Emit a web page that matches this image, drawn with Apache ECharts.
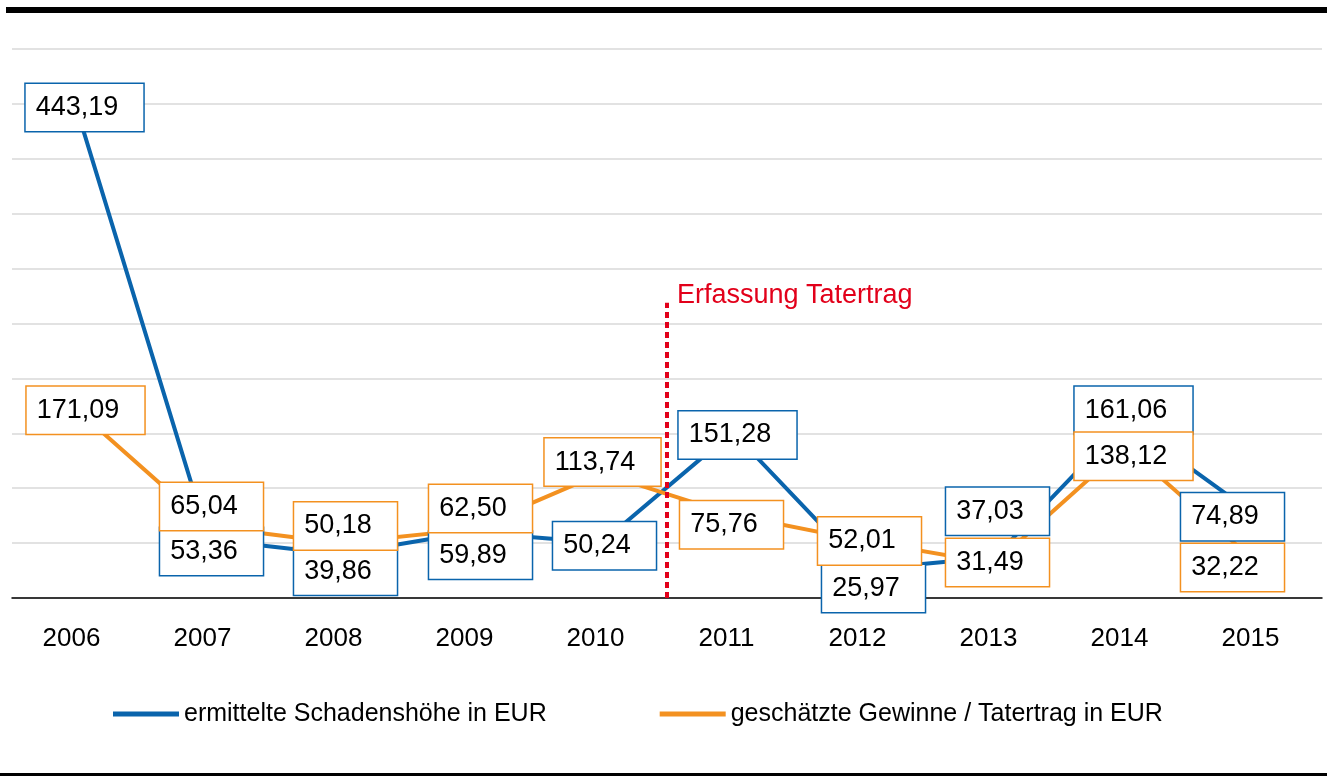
<!DOCTYPE html>
<html>
<head>
<meta charset="utf-8">
<script src="https://cdn.jsdelivr.net/npm/echarts@6/dist/echarts.min.js"></script>
<style>
  html, body { margin: 0; padding: 0; background: #fff; }
  #chart { width: 1327px; height: 776px; }
</style>
</head>
<body>
<div id="chart"></div>
<script>
var years = ['2006', '2007', '2008', '2009', '2010', '2011', '2012', '2013', '2014', '2015']
var schaden = [443.19, 53.36, 39.86, 59.89, 50.24, 151.28, 25.97, 37.03, 161.06, 74.89]
var gewinne = [171.09, 65.04, 50.18, 62.50, 113.74, 75.76, 52.01, 31.49, 138.12, 32.22]
var seriesNames = ['ermittelte Schadenshöhe in EUR', 'geschätzte Gewinne / Tatertrag in EUR']

// label box offsets from the point (px), as placed in the original
var schadenOffsets = [[7, -4], [3, 12], [6, 17], [10, 23], [3, 3], [5, 3], [10, 19], [3, -46], [8, -11], [-24, 1]]
var gewinneOffsets = [[8, 0], [3, -20], [6, -17], [10, -21], [1, -11], [-1, 10], [6, 0], [3, -1], [8, 10], [-24, 5]]

var BLUE = '#0a64ac'
var ORANGE = '#f39120'
var RED = '#e2001a'
var FONT = 'Liberation Sans, Arial, sans-serif'

function fmt (v) {
  return v.toFixed(2).replace('.', ',')
}

function labelData (values, offsets) {
  return values.map(function (v, i) {
    return { value: v, label: { offset: offsets[i] } }
  })
}

function labelSeries (name, values, offsets, color, z) {
  return {
    name: name,
    type: 'scatter',
    z: z,
    silent: true,
    symbolSize: 1,
    itemStyle: { color: 'rgba(0,0,0,0)', opacity: 1 },
    data: labelData(values, offsets),
    label: {
      show: true,
      position: 'inside',
      formatter: function (p) { return fmt(p.value) },
      fontFamily: FONT,
      fontSize: 27,
      lineHeight: 29,
      color: '#000',
      backgroundColor: '#fff',
      borderColor: color,
      borderWidth: 1.5,
      padding: [9, 25, 9, 10]
    }
  }
}

var myChart = echarts.init(document.getElementById('chart'))
var option = {
  animation: false,
  backgroundColor: '#fff',
  grid: { left: 12, right: 5, top: 49, bottom: 178 },
  legend: {
    data: seriesNames,
    left: 108,
    top: 694,
    icon: 'rect',
    itemWidth: 66,
    itemHeight: 5,
    itemGap: 113,
    textStyle: { fontFamily: FONT, fontSize: 25, lineHeight: 30, color: '#000' }
  },
  xAxis: [
    {
      type: 'category',
      data: years,
      boundaryGap: true,
      axisTick: { show: false },
      axisLine: { show: true, lineStyle: { color: '#000', width: 1.5 } },
      axisLabel: {
        fontFamily: FONT,
        fontSize: 26,
        color: '#000',
        margin: 28,
        padding: [0, 12, 0, 0]
      }
    },
    {
      // hidden helper axis: 0..10 maps onto the category band edges
      type: 'value',
      show: false,
      min: 0,
      max: 10
    }
  ],
  yAxis: {
    type: 'value',
    min: 0,
    max: 500,
    interval: 50,
    axisLabel: { show: false },
    axisLine: { show: false },
    axisTick: { show: false },
    splitLine: { show: true, lineStyle: { color: '#d9d9d9', width: 1.5 } }
  },
  graphic: [
    { type: 'rect', shape: { x: 6, y: 7, width: 1321, height: 6 }, style: { fill: '#000' } },
    { type: 'rect', shape: { x: 0, y: 773, width: 1327, height: 3 }, style: { fill: '#000' } }
  ],
  series: [
    {
      name: seriesNames[0],
      type: 'line',
      z: 2,
      data: schaden,
      symbol: 'none',
      lineStyle: { color: BLUE, width: 4 },
      itemStyle: { color: BLUE }
    },
    {
      name: seriesNames[1],
      type: 'line',
      z: 2,
      data: gewinne,
      symbol: 'none',
      lineStyle: { color: ORANGE, width: 4 },
      itemStyle: { color: ORANGE }
    },
    labelSeries('lab1', schaden, schadenOffsets, BLUE, 3),
    labelSeries('lab2', gewinne, gewinneOffsets, ORANGE, 4),
    {
      name: 'marker',
      type: 'line',
      xAxisIndex: 1,
      z: 2,
      data: [],
      markLine: {
        silent: true,
        symbol: 'none',
        label: { show: false },
        lineStyle: { color: RED, width: 4, type: [6, 4] },
        data: [[{ coord: [5, 0] }, { coord: [5, 269] }]]
      },
      markPoint: {
        silent: true,
        symbol: 'circle',
        symbolSize: 0,
        data: [{ coord: [5, 269] }],
        label: {
          show: true,
          position: 'right',
          distance: 10,
          offset: [0, -7],
          formatter: 'Erfassung Tatertrag',
          fontFamily: FONT,
          fontSize: 27,
          color: RED
        }
      }
    }
  ]
}
myChart.setOption(option)
</script>
</body>
</html>
